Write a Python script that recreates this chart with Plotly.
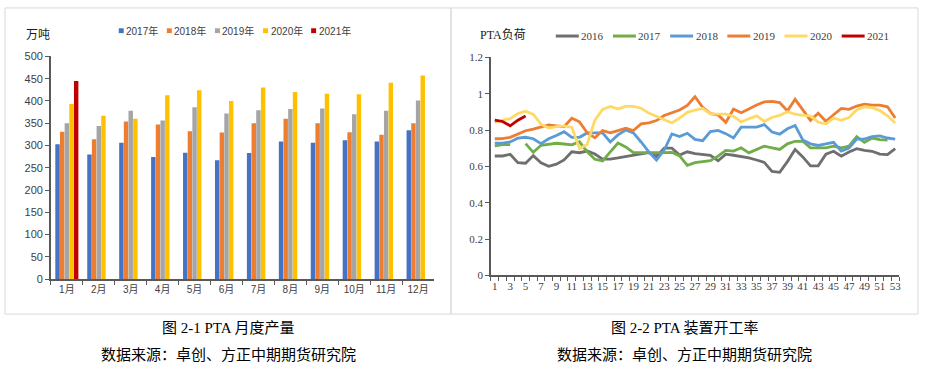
import plotly.graph_objects as go

W, H = 925, 385

months = ["1月", "2月", "3月", "4月", "5月", "6月", "7月", "8月", "9月", "10月", "11月", "12月"]
prod_years = ["2017年", "2018年", "2019年", "2020年", "2021年"]
prod_2017 = [303, 280, 306, 274, 284, 267, 283, 309, 306, 312, 309, 334]
prod_2018 = [331, 314, 354, 347, 332, 329, 350, 360, 350, 330, 324, 350]
prod_2019 = [350, 344, 378, 356, 386, 372, 379, 382, 383, 370, 378, 401]
prod_2020 = [393, 367, 360, 413, 424, 400, 430, 420, 416, 415, 441, 457]
prod_2021 = [445, None, None, None, None, None, None, None, None, None, None, None]

weeks = list(range(1, 54))
load_years = ["2016", "2017", "2018", "2019", "2020", "2021"]
load_2016 = [0.657, 0.657, 0.666, 0.620, 0.617, 0.659, 0.620, 0.600, 0.612, 0.635,
             0.680, 0.675, 0.684, 0.668, 0.640, 0.640, 0.646, 0.652, 0.660, 0.668,
             0.675, 0.655, 0.700, 0.700, 0.662, 0.680, 0.670, 0.665, 0.661, 0.631,
             0.667, 0.661, 0.656, 0.647, 0.635, 0.622, 0.572, 0.567, 0.626, 0.693,
             0.652, 0.603, 0.603, 0.667, 0.683, 0.656, 0.679, 0.697, 0.688, 0.683,
             0.667, 0.665, 0.697]
load_2017 = [0.712, 0.720, 0.720, None, 0.725, 0.677, 0.716, 0.723, 0.727, 0.723,
             0.718, 0.735, 0.680, 0.639, 0.630, 0.680, 0.728, 0.707, 0.675, 0.675,
             0.677, 0.675, 0.675, 0.677, 0.657, 0.605, 0.620, 0.626, 0.631, 0.656,
             0.688, 0.684, 0.702, 0.674, 0.693, 0.711, 0.702, 0.693, 0.724, 0.738,
             0.738, 0.702, 0.702, 0.702, 0.711, 0.702, 0.711, 0.763, 0.732, 0.756,
             0.747, 0.745, None]
load_2018 = [0.728, 0.728, 0.734, 0.755, 0.760, 0.752, 0.725, 0.752, 0.770, 0.791,
             0.760, 0.760, 0.784, 0.784, 0.784, 0.734, 0.773, 0.800, 0.784, 0.734,
             0.680, 0.635, 0.690, 0.778, 0.764, 0.782, 0.748, 0.741, 0.791, 0.798,
             0.780, 0.756, 0.816, 0.816, 0.816, 0.830, 0.789, 0.777, 0.807, 0.825,
             0.745, 0.724, 0.715, 0.724, 0.732, 0.684, 0.700, 0.750, 0.750, 0.764,
             0.768, 0.756, 0.750]
load_2019 = [0.752, 0.753, 0.760, 0.778, 0.796, 0.805, 0.818, 0.828, 0.823, 0.818,
             0.865, 0.845, 0.785, 0.757, 0.797, 0.785, 0.797, 0.810, 0.797, 0.834,
             0.839, 0.852, 0.880, 0.897, 0.910, 0.935, 0.983, 0.925, 0.890, 0.883,
             0.842, 0.915, 0.895, 0.916, 0.938, 0.955, 0.958, 0.951, 0.905, 0.969,
             0.910, 0.853, 0.892, 0.848, 0.884, 0.919, 0.914, 0.932, 0.942, 0.937,
             0.937, 0.928, 0.866]
load_2020 = [0.841, 0.855, 0.863, 0.891, 0.904, 0.886, 0.832, 0.811, 0.818, 0.823,
             0.814, 0.698, 0.720, 0.854, 0.913, 0.930, 0.916, 0.930, 0.930, 0.920,
             0.893, 0.875, 0.857, 0.839, 0.866, 0.897, 0.910, 0.919, 0.889, 0.889,
             0.887, 0.875, 0.844, 0.862, 0.878, 0.848, 0.869, 0.880, 0.901, 0.887,
             0.880, 0.878, 0.843, 0.834, 0.866, 0.853, 0.869, 0.910, 0.928, 0.923,
             0.907, 0.878, 0.839]
load_2021 = [0.855, 0.847, 0.823, 0.854, 0.877] + [None] * 48

bar_colors = ["#4472c4", "#ed7d31", "#a5a5a5", "#ffc000", "#c00000"]
line_colors = ["#6f6f6f", "#70ad47", "#5b9bd5", "#ed7d31", "#ffd966", "#c00000"]

SANS = "Liberation Sans Narrow, Liberation Sans, Noto Sans CJK SC"
SERIF = "Liberation Serif, Noto Sans CJK SC"
CJK = "Noto Sans CJK SC"

fig = go.Figure()

for name, vals, col in zip(prod_years, [prod_2017, prod_2018, prod_2019, prod_2020, prod_2021], bar_colors):
    fig.add_trace(go.Bar(x=months, y=vals, name=name, marker=dict(color=col, line=dict(width=0)),
                         xaxis="x", yaxis="y", showlegend=False))

for name, vals, col in zip(load_years, [load_2016, load_2017, load_2018, load_2019, load_2020, load_2021], line_colors):
    fig.add_trace(go.Scatter(x=weeks, y=vals, name=name, mode="lines",
                             line=dict(color=col, width=2.8), connectgaps=False,
                             xaxis="x2", yaxis="y2", showlegend=False))


def px(x):
    return x / W


def py(y):
    return 1 - y / H


axis_col = "#595959"
fig.update_layout(
    width=W, height=H,
    margin=dict(l=0, r=0, t=0, b=0),
    paper_bgcolor="white", plot_bgcolor="white",
    barmode="group", bargap=0.27, bargroupgap=0.05,
    xaxis=dict(type="category", domain=[px(51), px(435)], anchor="y",
               showline=True, linecolor=axis_col, linewidth=1.5, tickangle=0,
               ticks="outside", tickson="boundaries", ticklen=4, tickcolor=axis_col,
               tickfont=dict(family=SANS, size=10, color="#404040"), showgrid=False),
    yaxis=dict(range=[0, 500], dtick=50, domain=[py(282), py(52)], anchor="x",
               showline=True, linecolor=axis_col, linewidth=1.5,
               ticks="outside", ticklen=4, tickcolor=axis_col, showgrid=False, zeroline=False,
               tickfont=dict(family=SANS, size=11, color="#404040")),
    xaxis2=dict(range=[0.5, 53.5], domain=[px(492), px(901)], anchor="y2",
                tickvals=[w for w in weeks if w % 2 == 1], ticks="", tickangle=0,
                minor=dict(ticks="outside", ticklen=4, dtick=1, tick0=0.5, tickcolor=axis_col),
                showline=True, linecolor=axis_col, linewidth=1.5, showgrid=False, zeroline=False,
                tickfont=dict(family=SERIF, size=11, color="#404040")),
    yaxis2=dict(range=[0, 1.2], dtick=0.2, domain=[py(278), py(53)], anchor="x2",
                showline=True, linecolor=axis_col, linewidth=1.5,
                ticks="outside", ticklen=4, tickcolor=axis_col, showgrid=False, zeroline=False,
                tickfont=dict(family=SERIF, size=11, color="#404040")),
    showlegend=False,
)

annotations = [
    dict(text="万吨", x=px(24), y=py(28), xanchor="left", yanchor="middle",
         font=dict(family=CJK, size=12, color="#202020")),
    dict(text="PTA负荷", x=px(479), y=py(30), xanchor="left", yanchor="middle",
         font=dict(family=SERIF, size=12, color="#202020")),
    dict(text="图 2-1 PTA 月度产量", x=px(229), y=py(332), xanchor="center", yanchor="middle",
         font=dict(family=SERIF, size=15, color="#000000")),
    dict(text="数据来源：卓创、方正中期期货研究院", x=px(229), y=py(360), xanchor="center", yanchor="middle",
         font=dict(family=SERIF, size=15, color="#000000")),
    dict(text="图 2-2 PTA 装置开工率", x=px(686), y=py(332), xanchor="center", yanchor="middle",
         font=dict(family=SERIF, size=15, color="#000000")),
    dict(text="数据来源：卓创、方正中期期货研究院", x=px(686), y=py(360), xanchor="center", yanchor="middle",
         font=dict(family=SERIF, size=15, color="#000000")),
]

shapes = [
    dict(type="rect", xref="paper", yref="paper", x0=px(5), x1=px(452), y0=py(318), y1=py(2),
         line=dict(color="#d9d9d9", width=1)),
    dict(type="rect", xref="paper", yref="paper", x0=px(452), x1=px(920), y0=py(318), y1=py(2),
         line=dict(color="#d9d9d9", width=1)),
]

# legend for the bar chart (keys + labels)
for i, (name, col) in enumerate(zip(prod_years, bar_colors)):
    x0 = 119 + i * 48.2
    shapes.append(dict(type="rect", xref="paper", yref="paper", x0=px(x0), x1=px(x0 + 5),
                       y0=py(28), y1=py(23), fillcolor=col, line=dict(width=0)))
    annotations.append(dict(text=name, x=px(x0 + 5.5), y=py(25.5), xanchor="left", yanchor="middle",
                            font=dict(family=SANS, size=10, color="#404040")))

# legend for the line chart
for i, (name, col) in enumerate(zip(load_years, line_colors)):
    x0 = 557 + i * 57.3
    shapes.append(dict(type="line", xref="paper", yref="paper", x0=px(x0), x1=px(x0 + 23),
                       y0=py(31), y1=py(31), line=dict(color=col, width=3)))
    annotations.append(dict(text=name, x=px(x0 + 23.5), y=py(31), xanchor="left", yanchor="middle",
                            font=dict(family=SERIF, size=11, color="#404040")))

for a in annotations:
    a.update(xref="paper", yref="paper", showarrow=False)
fig.update_layout(annotations=annotations, shapes=shapes)

fig.write_html("out.html", config={"displayModeBar": False},
               post_script="document.body.style.margin='0';document.body.style.overflow='hidden';")
